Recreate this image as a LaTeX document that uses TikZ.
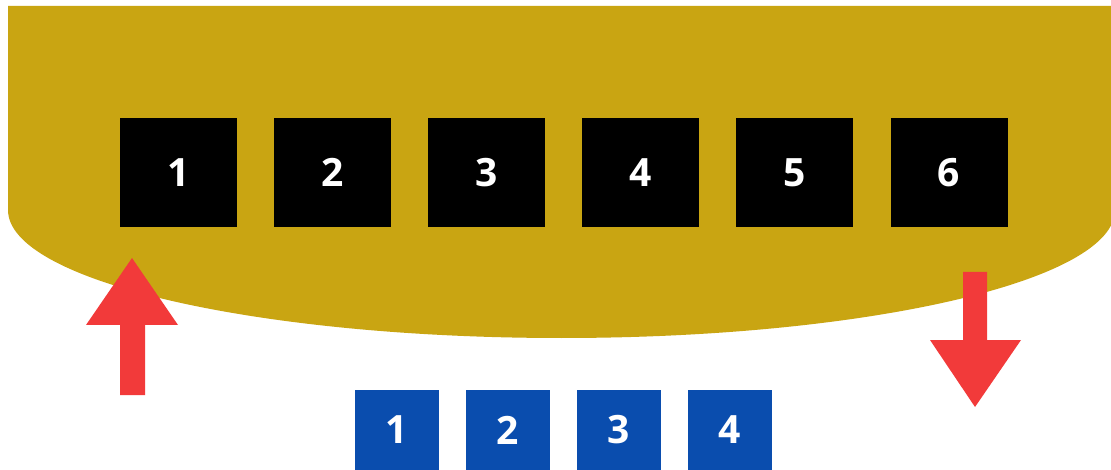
\documentclass[tikz,border=0pt]{standalone}
\usepackage{fontspec}
\setmainfont{Open Sans}
\usepackage{tikz}
\usetikzlibrary{positioning}
\definecolor{gold}{HTML}{C9A512}
\definecolor{arrowred}{HTML}{F23A3A}
\definecolor{slotblue}{HTML}{0A4DAE}

\begin{document}
\begin{tikzpicture}[x=1pt,y=-1pt,
  slot/.style={fill=black,text=white,inner sep=0pt,minimum width=117pt,minimum height=109pt,font=\fontsize{39}{40}\selectfont\bfseries},
  queue/.style={fill=slotblue,text=white,inner sep=0pt,minimum width=84pt,minimum height=80pt,font=\fontsize{39}{40}\selectfont\bfseries}]
\clip (0,0) rectangle (1111,470);
\fill[white] (0,0) rectangle (1111,470);
% gold area
\fill[gold] (8,6) -- (1115,6) -- (1115,210) arc[start angle=0,end angle=180,x radius=553.5,y radius=128] -- cycle;
% black slots
\foreach \i in {1,...,6}
  \node[slot] (s\i) at ({178.5+(\i-1)*154.1},172.5) {\i};
% blue queue
\foreach \i in {1,...,4}
  \node[queue] (q\i) at ({397+(\i-1)*111},430) {\i};
% red arrows
\fill[arrowred] (120,395) -- (120,325) -- (86,325) -- (132,258) -- (178,325) -- (145,325) -- (145,395) -- cycle;
\fill[arrowred] (963,272) -- (963,340) -- (930,340) -- (975,407) -- (1021,340) -- (987,340) -- (987,272) -- cycle;
\end{tikzpicture}
\end{document}
